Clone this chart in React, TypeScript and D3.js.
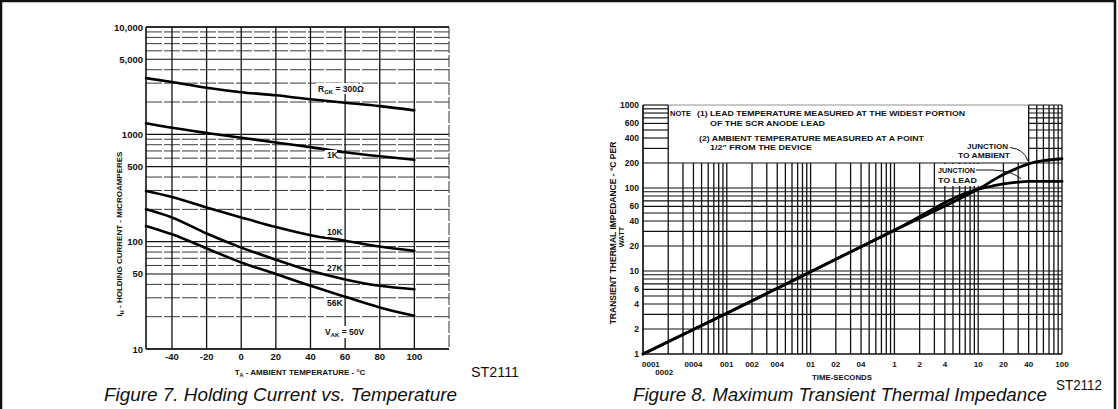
import React from 'react';
import * as d3 from 'd3';

// ---------- Figure 7 data: Holding current vs temperature ----------
const tempC = [-55, -40, -20, 0, 20, 40, 60, 80, 100];
const ihRgk300 = [3340, 3070, 2720, 2470, 2310, 2120, 1970, 1830, 1670];
const ihRgk1k = [1270, 1150, 1030, 930, 840, 760, 680, 625, 580];
const ihRgk10k = [297, 261, 208, 168, 137, 115, 102, 90, 82];
const ihRgk27k = [200, 168, 119, 88, 68, 53.5, 44.5, 38.8, 36];
const ihRgk56k = [140, 117, 86.5, 64, 50, 38.8, 30.7, 24.4, 20.4];
const fig7Series = [ihRgk300, ihRgk1k, ihRgk10k, ihRgk27k, ihRgk56k];
const fig7XTicks = [-40, -20, 0, 20, 40, 60, 80, 100];
const fig7YTicks = [10, 50, 100, 500, 1000, 5000, 10000];
const fig7YTickLabels = ['10', '50', '100', '500', '1000', '5,000', '10,000'];

// ---------- Figure 8 data: Transient thermal impedance ----------
const timeS = [0.001, 0.01, 0.1, 1, 10, 20, 30, 40, 60, 100];
const zJunctionAmbient = [1, 3.1, 9.8, 31, 97, 145, 175, 195, 213, 225];
const leadTimeS = [0.001, 0.01, 0.1, 1, 10, 15, 20, 30, 40, 60, 100];
const zJunctionLead = [1, 3.1, 9.8, 31, 97, 106, 112, 118, 120, 120, 120];
const fig8XTicks = [0.001, 0.002, 0.004, 0.01, 0.02, 0.04, 0.1, 0.2, 0.4, 1, 2, 4, 10, 20, 40, 100];
const fig8XTickLabels = ['0001', '0002', '0004', '001', '002', '004', '01', '02', '04', '1', '2', '4', '10', '20', '40', '100'];
const fig8YTicks = [1, 2, 4, 6, 10, 20, 40, 60, 100, 200, 400, 600, 1000];

const FONT = "'Liberation Sans', Arial, Helvetica, sans-serif";

export default function App() {
  const W = 1118, H = 409;

  // Figure 7 scales
  const xL = d3.scaleLinear().domain([-55, 120]).range([146, 449]);
  const yL = d3.scaleLog().domain([10, 10000]).range([349, 27]);
  // Figure 8 scales
  const xR = d3.scaleLog().domain([0.001, 100]).range([643, 1062]);
  const yR = d3.scaleLog().domain([1, 1000]).range([354, 105]);

  const lineL = (vals: number[]) =>
    d3.line<number>()
      .x((_, i) => xL(tempC[i]))
      .y((d) => yL(d))
      .curve(d3.curveMonotoneX)(vals) || '';

  const lineR = (ts: number[], zs: number[]) =>
    d3.line<number>()
      .x((_, i) => xR(ts[i]))
      .y((d) => yR(d))
      .curve(d3.curveMonotoneX)(zs) || '';

  const [l0, l1] = xL.range();
  const [rX0, rX1] = xR.range();

  const tickStyle = { fontFamily: FONT, fontWeight: 700 as const, fill: '#111' };

  return (
    <svg width={W} height={H} viewBox={`0 0 ${W} ${H}`}
      style={{ position: 'absolute', left: 0, top: 0, background: '#fff' }}>
      <rect x={0} y={0} width={W} height={H} fill="#fff" />
      {/* page frame */}
      <path d={`M1,${H} L1,1 L1115,1 L1115,${H}`} fill="none" stroke="#111" strokeWidth={2.5} />

      {/* ================= FIGURE 7 ================= */}
      <g>
        {yL.ticks().map((v) => {
          const lead = Math.round(v / Math.pow(10, Math.floor(Math.log10(v) + 1e-9)));
          const major = lead === 1 || lead === 5;
          return (
            <line key={'lh' + v} x1={l0} x2={l1} y1={yL(v)} y2={yL(v)}
              stroke={major ? '#111' : '#222'} strokeWidth={major ? 1.1 : 0.9}
              strokeDasharray={major ? undefined : '16 2'} />
          );
        })}
        {fig7XTicks.map((t) => (
          <line key={'lv' + t} x1={xL(t)} x2={xL(t)} y1={yL(10000)} y2={yL(10)} stroke="#111" strokeWidth={1.3} />
        ))}
        <line x1={l0} x2={l0} y1={yL(10000)} y2={yL(10)} stroke="#111" strokeWidth={1.6} />
        <line x1={l1} x2={l1} y1={yL(10000)} y2={yL(10)} stroke="#333" strokeWidth={1} strokeDasharray="12 2" />
        <line x1={l0} x2={l1} y1={yL(10000)} y2={yL(10000)} stroke="#111" strokeWidth={1.5} />
        <line x1={l0} x2={l1} y1={yL(10)} y2={yL(10)} stroke="#111" strokeWidth={1.3} />

        {fig7Series.map((s, i) => (
          <path key={'ls' + i} d={lineL(s)} fill="none" stroke="#000" strokeWidth={2.6} strokeLinecap="round" />
        ))}

        {/* curve labels */}
        <rect x={316} y={83} width={42} height={11} fill="#fff" />
        <text x={318} y={92} fontSize={8.5} {...tickStyle}>
          R<tspan fontSize={6} dy={2}>GK</tspan><tspan dy={-2}> = 300Ω</tspan>
        </text>
        <rect x={325} y={150} width={12} height={10} fill="#fff" />
        <text x={327} y={158} fontSize={8.5} {...tickStyle}>1K</text>
        <rect x={325} y={227} width={17} height={10} fill="#fff" />
        <text x={327} y={235} fontSize={8.5} {...tickStyle}>10K</text>
        <rect x={325} y={263} width={17} height={10} fill="#fff" />
        <text x={327} y={271} fontSize={8.5} {...tickStyle}>27K</text>
        <rect x={325} y={298} width={17} height={10} fill="#fff" />
        <text x={327} y={306} fontSize={8.5} {...tickStyle}>56K</text>
        <rect x={323} y={326} width={32} height={12} fill="#fff" />
        <text x={325} y={335} fontSize={8.5} {...tickStyle}>
          V<tspan fontSize={6} dy={2}>AK</tspan><tspan dy={-2}> = 50V</tspan>
        </text>

        {/* ticks */}
        {fig7YTicks.map((v, i) => (
          <text key={'lyt' + v} x={l0 - 3} y={yL(v) + 3.5} fontSize={9.5} textAnchor="end" {...tickStyle}>
            {fig7YTickLabels[i]}
          </text>
        ))}
        {fig7XTicks.map((t) => (
          <text key={'lxt' + t} x={xL(t)} y={359.5} fontSize={9.5} textAnchor="middle" {...tickStyle}>
            {t}
          </text>
        ))}

        {/* axis titles */}
        <text x={300} y={375} fontSize={8} textAnchor="middle" {...tickStyle}>
          T<tspan fontSize={5.5} dy={2}>A</tspan><tspan dy={-2}> - AMBIENT TEMPERATURE - °C</tspan>
        </text>
        <text transform="translate(122,234) rotate(-90)" fontSize={8} textAnchor="middle" {...tickStyle}>
          I<tspan fontSize={5.5} dy={2}>H</tspan><tspan dy={-2}> - HOLDING CURRENT - MICROAMPERES</tspan>
        </text>

        <text x={471} y={377} fontSize={15} fontFamily={FONT} fill="#111" textLength={48} lengthAdjust="spacingAndGlyphs">ST2111</text>
        <text x={104} y={401} fontSize={17.5} fontFamily={FONT} fontStyle="italic" fill="#111"
          textLength={353} lengthAdjust="spacingAndGlyphs">Figure 7.  Holding Current vs. Temperature</text>
      </g>

      {/* ================= FIGURE 8 ================= */}
      <g>
        {yR.ticks().map((v) => {
          const y = yR(v);
          if (v <= 200) {
            return <line key={'rh' + v} x1={rX0} x2={rX1} y1={y} y2={y} stroke="#111" strokeWidth={v === 1 ? 1.6 : 1.15} />;
          }
          return (
            <g key={'rh' + v}>
              <line x1={rX0} x2={xR(0.002)} y1={y} y2={y} stroke="#111" strokeWidth={1.15} />
              <line x1={xR(40)} x2={rX1} y1={y} y2={y} stroke="#111" strokeWidth={1.15} />
              {v === 1000 && (
                <line x1={xR(0.002)} x2={xR(40)} y1={y} y2={y} stroke="#777" strokeWidth={0.8} />
              )}
            </g>
          );
        })}
        {xR.ticks().map((t) => {
          const full = t <= 0.0020001 || t >= 39.999;
          return (
            <line key={'rv' + t} x1={xR(t)} x2={xR(t)} y1={full ? yR(1000) : yR(200)} y2={yR(1)}
              stroke="#111" strokeWidth={t === 0.001 ? 1.7 : 1.3} />
          );
        })}

        {/* note box text */}
        <text x={670} y={116} fontSize={8} {...tickStyle} textLength={21} lengthAdjust="spacingAndGlyphs">NOTE</text>
        <text x={697} y={116} fontSize={8} {...tickStyle} textLength={268} lengthAdjust="spacingAndGlyphs">(1) LEAD TEMPERATURE MEASURED AT THE WIDEST PORTION</text>
        <text x={710} y={126} fontSize={8} {...tickStyle} textLength={115} lengthAdjust="spacingAndGlyphs">OF THE SCR ANODE LEAD</text>
        <text x={699} y={140.5} fontSize={8} {...tickStyle} textLength={225} lengthAdjust="spacingAndGlyphs">(2) AMBIENT TEMPERATURE MEASURED AT A POINT</text>
        <text x={710} y={150} fontSize={8} {...tickStyle} textLength={102} lengthAdjust="spacingAndGlyphs">1/2" FROM THE DEVICE</text>

        {/* curves */}
        <path d={lineR(leadTimeS, zJunctionLead)} fill="none" stroke="#000" strokeWidth={2.8} strokeLinecap="round" />
        <path d={lineR(timeS, zJunctionAmbient)} fill="none" stroke="#000" strokeWidth={2.8} strokeLinecap="round" />

        {/* annotations */}
        <text x={967} y={149} fontSize={7.5} {...tickStyle} textLength={41} lengthAdjust="spacingAndGlyphs">JUNCTION</text>
        <text x={958} y={158} fontSize={7.5} {...tickStyle} textLength={52} lengthAdjust="spacingAndGlyphs">TO AMBIENT</text>
        <path d="M1010,147.5 Q1024,149 1028,161" fill="none" stroke="#111" strokeWidth={1} />
        <rect x={936} y={164} width={44} height={22} fill="#fff" />
        <text x={938} y={173} fontSize={7.5} {...tickStyle} textLength={37} lengthAdjust="spacingAndGlyphs">JUNCTION</text>
        <text x={938} y={183} fontSize={7.5} {...tickStyle} textLength={39} lengthAdjust="spacingAndGlyphs">TO LEAD</text>
        <path d="M976,170 L993,170 Q1013,171 1021,179" fill="none" stroke="#111" strokeWidth={1} />

        {/* ticks */}
        {fig8YTicks.map((v) => (
          <text key={'ryt' + v} x={rX0 - 4} y={yR(v) + 3} fontSize={8.5} textAnchor="end" {...tickStyle}>{v}</text>
        ))}
        {fig8XTicks.map((t, i) => {
          const lbl = fig8XTickLabels[i];
          if (t === 0.001) {
            return <text key={'rxt' + t} x={rX0 - 1} y={367} fontSize={8} textAnchor="start" {...tickStyle}>{lbl}</text>;
          }
          if (t === 0.002) {
            return <text key={'rxt' + t} x={xR(t) - 4} y={374.5} fontSize={8} textAnchor="middle" {...tickStyle}>{lbl}</text>;
          }
          return <text key={'rxt' + t} x={xR(t)} y={367} fontSize={8} textAnchor="middle" {...tickStyle}>{lbl}</text>;
        })}

        <text x={842} y={380} fontSize={7.8} textAnchor="middle" {...tickStyle}>TIME-SECONDS</text>
        <text transform="translate(616,233) rotate(-90)" fontSize={8.5} textAnchor="middle" {...tickStyle}>
          TRANSIENT THERMAL IMPEDANCE - °C PER
        </text>
        <text transform="translate(624,237) rotate(-90)" fontSize={7.5} textAnchor="middle" {...tickStyle}>WATT</text>

        <text x={1056} y={390} fontSize={15} fontFamily={FONT} fill="#111" textLength={46} lengthAdjust="spacingAndGlyphs">ST2112</text>
        <text x={633} y={401} fontSize={17.5} fontFamily={FONT} fontStyle="italic" fill="#111"
          textLength={414} lengthAdjust="spacingAndGlyphs">Figure 8.  Maximum Transient Thermal Impedance</text>
      </g>
    </svg>
  );
}
